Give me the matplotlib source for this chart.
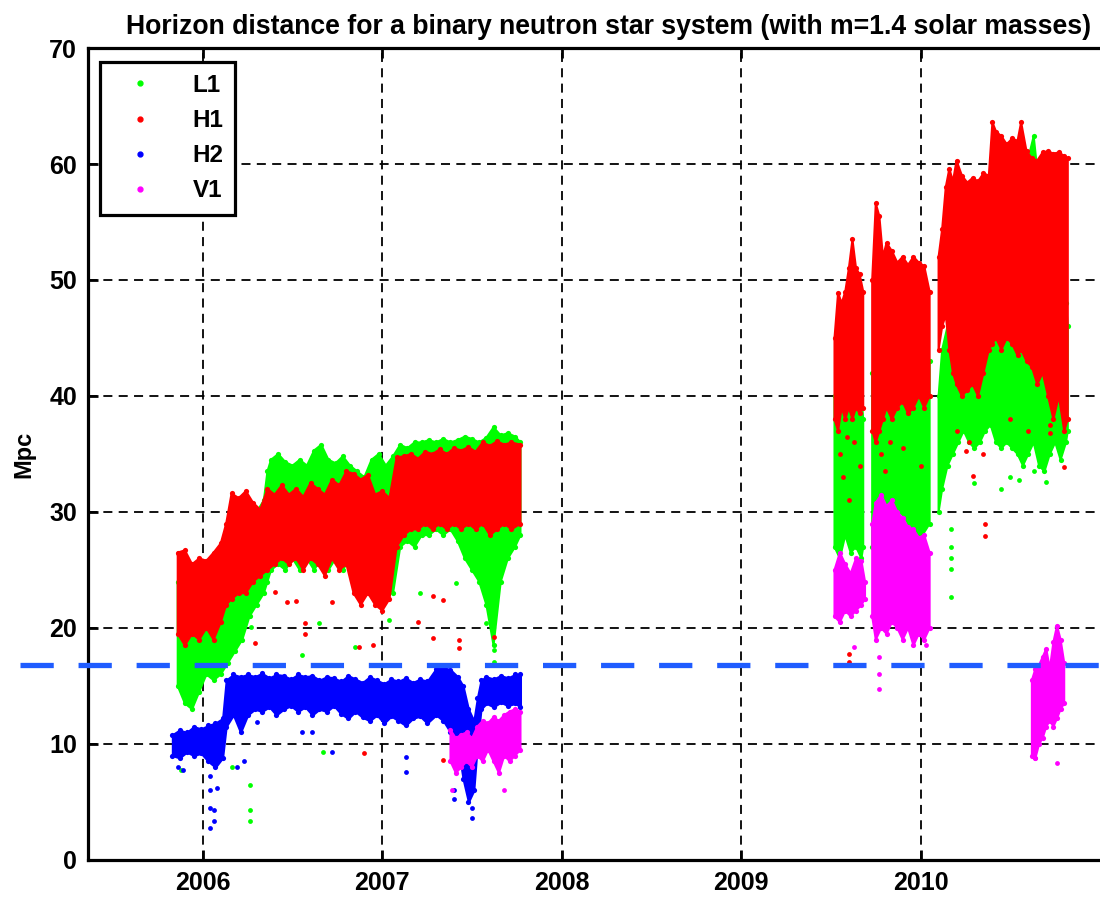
import numpy as np
import matplotlib
matplotlib.use("Agg")
import matplotlib.pyplot as plt
from matplotlib.lines import Line2D
import matplotlib.transforms as mtransforms

nan = np.nan

# ---- data (decimal year, Mpc) ----------------------------------------------
# dense band of each detector: time, lower edge, upper edge (nan = gap between runs)
L1_T = [2005.86, 2005.90, 2005.94, 2005.98, 2006.02, 2006.06, 2006.10, 2006.14, 2006.18,
        2006.22, 2006.26, 2006.30, 2006.34, 2006.36, 2006.38, 2006.42, 2006.46, 2006.50,
        2006.54, 2006.58, 2006.62, 2006.66, 2006.70, 2006.74, 2006.78, 2006.82, 2006.86,
        2006.90, 2006.94, 2006.98, 2007.02, 2007.06, 2007.10, 2007.14, 2007.18, 2007.22,
        2007.26, 2007.30, 2007.34, 2007.38, 2007.42, 2007.46, 2007.50, 2007.54, 2007.58,
        2007.62, 2007.66, 2007.70, 2007.74, 2007.77, nan,
        2009.52, 2009.55, 2009.58, 2009.61, 2009.64, 2009.67, 2009.68, nan,
        2009.73, 2009.77, 2009.81, 2009.85, 2009.89, 2009.93, 2009.97, 2010.01, 2010.05, nan,
        2010.10, 2010.12, 2010.15, 2010.18, 2010.21, 2010.24, 2010.27, 2010.30, 2010.33,
        2010.36, 2010.39, 2010.42, 2010.45, 2010.48, 2010.51, 2010.54, 2010.57, 2010.60,
        2010.63, 2010.66, 2010.69, 2010.72, 2010.75, 2010.78, 2010.81, 2010.82]
L1_LO = [15, 13.5, 13, 14.5, 16, 15.5, 16, 17, 18,
         19, 21, 22, 23, 24, 25, 25.5, 25, 26,
         25, 26, 25, 26, 25, 26, 25, 26, 24,
         23, 24, 23, 24, 23, 27, 27.5, 27, 28,
         28, 28.5, 28, 28.5, 27.5, 26, 25, 24, 22,
         18.5, 24, 26, 27, 28, nan,
         27, 26, 28, 26.5, 27, 26, 27, nan,
         27, 29, 30, 30.5, 30, 29, 28, 28, 29, nan,
         30, 32, 34, 35, 36, 37, 36, 35.5, 36,
         37, 37.5, 36, 35.5, 36, 35.5, 35, 34, 35,
         36, 34, 33.5, 35, 36, 34.5, 36, 37]
L1_HI = [24, 25, 24, 23, 22, 23, 24, 26, 27,
         28, 29, 30, 31, 33.5, 34.5, 35, 34.3, 34,
         34.5, 34, 35.3, 35.8, 34.5, 34.2, 34.8, 34, 33.5,
         33, 34.5, 35, 34, 34.8, 35.8, 35.5, 36, 36,
         36.2, 36, 36.3, 36, 36.2, 36.5, 36.3, 36, 36.4,
         37.3, 36.6, 36.8, 36.5, 36, nan,
         40, 42, 41, 42, 41, 40, 38, nan,
         42, 41.5, 42, 41, 42.5, 43, 44.5, 45, 43, nan,
         40, 44, 46, 48, 49, 50, 51, 52, 51,
         53, 55, 58, 56, 54, 55, 57, 59, 60.5,
         62.4, 58, 55, 54, 52, 50, 48, 46]

H1_T = [2005.86, 2005.90, 2005.94, 2005.98, 2006.02, 2006.06, 2006.10, 2006.13, 2006.16,
        2006.20, 2006.24, 2006.28, 2006.32, 2006.36, 2006.40, 2006.44, 2006.48, 2006.52,
        2006.56, 2006.60, 2006.64, 2006.68, 2006.72, 2006.76, 2006.80, 2006.84, 2006.88,
        2006.92, 2006.96, 2007.00, 2007.04, 2007.08, 2007.12, 2007.16, 2007.20, 2007.24,
        2007.28, 2007.32, 2007.36, 2007.40, 2007.44, 2007.48, 2007.52, 2007.56, 2007.60,
        2007.64, 2007.68, 2007.72, 2007.77, nan,
        2009.52, 2009.54, 2009.56, 2009.58, 2009.60, 2009.62, 2009.64, 2009.66, 2009.68, nan,
        2009.73, 2009.75, 2009.77, 2009.79, 2009.81, 2009.84, 2009.87, 2009.90, 2009.93,
        2009.96, 2009.99, 2010.02, 2010.05, nan,
        2010.10, 2010.12, 2010.14, 2010.16, 2010.18, 2010.20, 2010.23, 2010.26, 2010.29,
        2010.32, 2010.35, 2010.38, 2010.40, 2010.42, 2010.45, 2010.48, 2010.51, 2010.54,
        2010.56, 2010.59, 2010.62, 2010.65, 2010.68, 2010.71, 2010.74, 2010.77, 2010.80,
        2010.82]
H1_LO = [19.5, 18.5, 19.5, 19, 20, 19, 20.5, 22, 22.5,
         23, 23, 24, 24.5, 25, 25.5, 26, 25.5, 26,
         25, 26, 25.5, 24.5, 26, 25, 25.5, 23, 22,
         23, 22, 21.5, 22.5, 27, 28, 28.5, 28.5, 29,
         28.5, 29, 28.5, 29, 28.5, 29, 28.5, 29, 28,
         28.5, 29, 28.5, 29, nan,
         38, 37, 39, 38, 39, 38, 39, 38.5, 39, nan,
         37, 36, 37, 38, 39, 38, 39, 39.5, 38.5,
         39, 40, 39, 40, nan,
         44, 46, 47, 44, 42, 41, 40, 40.5, 41,
         40, 42, 44, 44.5, 45, 44, 45, 44.5, 43.5,
         44, 43, 42.5, 41, 42, 40, 38, 40, 37,
         38]
H1_HI = [26.5, 26.7, 25.5, 26, 25.8, 26.5, 27.3, 29, 31.6,
         31.2, 31.8, 30.8, 30.2, 32, 31.5, 32.3, 31.5, 32,
         31.3, 32.5, 32, 31.5, 32.8, 32.3, 33.5, 33.3, 32.8,
         33.2, 31.5, 31.8, 31.2, 34.7, 34.8, 35, 34.6, 35.2,
         35, 35.4, 35, 35.5, 35.3, 35.6, 35.2, 36, 35.7,
         36.1, 35.8, 36, 35.8, nan,
         45, 48.9, 48, 49, 51, 53.5, 51, 50.5, 49, nan,
         50, 56.6, 55.5, 52, 53.2, 52.5, 51.5, 52, 51.3,
         52, 51.5, 51.2, 49, nan,
         52, 54.4, 58, 59.6, 58.5, 60.3, 59, 58.4, 58.8,
         58.5, 59.2, 59, 63.6, 62.8, 62.4, 61.7, 62.2, 62,
         63.6, 61.1, 60.5, 60.3, 61, 61.1, 60.9, 61, 60.7,
         60.5]

H2_T = [2005.83, 2005.87, 2005.91, 2005.95, 2005.99, 2006.03, 2006.07, 2006.11, 2006.13,
        2006.17, 2006.21, 2006.25, 2006.29, 2006.33, 2006.37, 2006.41, 2006.45, 2006.49,
        2006.53, 2006.57, 2006.61, 2006.65, 2006.69, 2006.73, 2006.77, 2006.81, 2006.85,
        2006.89, 2006.93, 2006.97, 2007.01, 2007.05, 2007.09, 2007.13, 2007.17, 2007.21,
        2007.25, 2007.30, 2007.34, 2007.38, 2007.42, 2007.45, 2007.48, 2007.51, 2007.53,
        2007.55, 2007.58, 2007.62, 2007.66, 2007.70, 2007.74, 2007.77]
H2_LO = [9, 8.8, 9.3, 9, 9.2, 8.5, 8, 8.8, 11.5,
         12.5, 11, 12.5, 13, 12.8, 13.2, 12.5, 13, 13.3,
         12.8, 13.2, 12.5, 13, 12.8, 13.3, 12.6, 12.2, 12.8,
         12.3, 12, 12.5, 11.8, 12.4, 12, 11.6, 12.2, 12.4,
         11.8, 12.5, 12, 11, 10, 7, 5, 6, 10,
         13, 13.5, 13.2, 13.6, 13.3, 13.5, 13.2]
H2_HI = [10.8, 11.2, 11, 11.5, 11.3, 11.6, 11.8, 12.2, 15.5,
         16, 15.8, 16, 15.8, 16.1, 15.7, 16, 15.9, 15.6,
         16, 15.8, 15.9, 15.5, 15.8, 15.7, 15.4, 15.9, 15.6,
         15.3, 15.8, 15.5, 15.2, 15.6, 15.4, 15.7, 15.3, 15.6,
         15.4, 16.5, 16.6, 16.4, 15.8, 15, 13, 12, 14,
         15.5, 15.8, 15.6, 15.9, 15.7, 16, 16]

V1_T = [2007.38, 2007.41, 2007.44, 2007.47, 2007.50, 2007.53, 2007.56, 2007.59, 2007.62,
        2007.65, 2007.68, 2007.71, 2007.74, 2007.77, nan,
        2009.52, 2009.55, 2009.58, 2009.61, 2009.64, 2009.67, 2009.69, nan,
        2009.73, 2009.75, 2009.78, 2009.81, 2009.84, 2009.87, 2009.90, 2009.93, 2009.96,
        2009.99, 2010.02, 2010.05, nan,
        2010.62, 2010.64, 2010.66, 2010.68, 2010.70, 2010.72, 2010.74, 2010.76, 2010.78,
        2010.80]
V1_LO = [8.5, 7.5, 8, 8.5, 8, 9, 8.5, 9.5, 8.5,
         7.5, 9, 8.5, 9, 9.5, nan,
         21, 20.5, 21.5, 21, 21.5, 22, 22.5, nan,
         21, 19, 20, 19.5, 20.5, 20, 19, 20, 18.5,
         19.5, 19, 20, nan,
         9, 8.8, 10, 10.5, 11.5, 12, 11.5, 12.2, 13,
         13.5]
V1_HI = [11.2, 10.5, 10.8, 11, 10.5, 11.5, 12, 11.8, 12.3,
         12, 12.5, 12.8, 13, 12.8, nan,
         25, 26.5, 25.5, 24.7, 26, 25.8, 24, nan,
         29, 30.8, 31.5, 30.5, 31, 30, 29.5, 28.7, 28.5,
         27.8, 28, 26.5, nan,
         15.5, 16.5, 16.8, 17.5, 18.2, 16.5, 18.8, 20.2, 19,
         17]

# isolated points below / above the dense bands
L1_OUT_T = [2005.88, 2005.94, 2006.16, 2006.26, 2006.26, 2006.26, 2006.27, 2006.55, 2006.65,
            2006.67, 2006.85, 2007.04, 2007.21, 2007.41, 2007.58, 2007.62, 2007.62,
            2010.17, 2010.17, 2010.17, 2010.17, 2010.17, 2010.30, 2010.45, 2010.50,
            2010.55, 2010.63, 2010.70]
L1_OUT_V = [7.8, 13.5, 8.0, 6.5, 4.3, 3.4, 20.1, 17.7, 20.4,
            9.3, 18.4, 20.7, 23.0, 23.9, 20.4, 18.1, 17.1,
            28.5, 27.0, 26.0, 25.1, 22.7, 32.5, 32.0, 33.0,
            32.8, 33.5, 32.6]
H1_OUT_T = [2006.29, 2006.40, 2006.47, 2006.52, 2006.57, 2006.57, 2006.72, 2006.87, 2006.90,
            2006.95, 2007.20, 2007.28, 2007.28, 2007.34, 2007.34, 2007.43, 2007.43, 2007.62,
            2009.55, 2009.57, 2009.59, 2009.60, 2009.60, 2009.60, 2009.63, 2009.66, 2009.78,
            2009.80, 2009.83, 2009.90, 2010.00, 2010.20, 2010.25, 2010.27, 2010.29, 2010.35,
            2010.36, 2010.36, 2010.50, 2010.60, 2010.72, 2010.72, 2010.80]
H1_OUT_V = [18.7, 23.1, 22.2, 22.3, 20.4, 19.5, 22.2, 18.4, 9.2,
            18.5, 20.5, 19.1, 22.8, 8.6, 22.4, 19.0, 18.3, 19.2,
            35.0, 33.0, 36.5, 31.0, 17.8, 17.1, 36.0, 34.0, 35.0,
            33.5, 36.0, 35.5, 34.0, 37.0, 35.3, 36.0, 33.1, 35.0,
            29.0, 27.9, 38.0, 37.0, 36.8, 37.5, 33.9]
H2_OUT_T = [2005.86, 2005.89, 2006.04, 2006.04, 2006.04, 2006.04, 2006.06, 2006.06, 2006.08,
            2006.19, 2006.23, 2006.30, 2006.55, 2006.61, 2006.72, 2007.13, 2007.13, 2007.40,
            2007.40, 2007.50, 2007.50]
H2_OUT_V = [8.0, 7.8, 7.2, 6.0, 4.5, 2.8, 4.3, 3.4, 6.2,
            8.0, 8.5, 11.9, 11.0, 11.0, 9.3, 8.9, 7.6, 6.0,
            5.3, 4.5, 3.6]
V1_OUT_T = [2007.39, 2007.68, 2009.63, 2009.77, 2009.77, 2009.77, 2010.03, 2010.64, 2010.76]
V1_OUT_V = [6.0, 6.0, 18.4, 14.7, 16.0, 17.5, 18.5, 8.8, 8.4]

DETECTORS = ["L1", "H1", "H2", "V1"]
COLORS = ["#00ff00", "#ff0000", "#0000ff", "#ff00ff"]
YEARS = [2006, 2007, 2008, 2009, 2010]
THRESHOLD = 16.8

plt.rcParams["font.family"] = ["Liberation Sans", "DejaVu Sans"]
plt.rcParams["font.weight"] = "bold"

fig = plt.figure(figsize=(11, 8.99), dpi=100)
# the axes run a little past the right edge of the picture (right spine is cut off)
ax = fig.add_axes([0.08, 0.0434, 0.947, 0.9032])

bands = [(L1_T, L1_LO, L1_HI), (H1_T, H1_LO, H1_HI),
         (H2_T, H2_LO, H2_HI), (V1_T, V1_LO, V1_HI)]
outliers = [(L1_OUT_T, L1_OUT_V), (H1_OUT_T, H1_OUT_V),
            (H2_OUT_T, H2_OUT_V), (V1_OUT_T, V1_OUT_V)]

for i, ((t, lo, hi), (ot, ov), col) in enumerate(zip(bands, outliers, COLORS)):
    t, lo, hi = np.array(t), np.array(lo), np.array(hi)
    z = 2 + i
    ax.fill_between(t, lo, hi, color=col, lw=1.5, edgecolor=col, zorder=z)
    ax.scatter(t, hi, s=14, color=col, lw=0, zorder=z)
    ax.scatter(t, lo, s=14, color=col, lw=0, zorder=z)
    ax.scatter(ot, ov, s=12, color=col, lw=0, zorder=z)

# threshold line, runs past the left spine
trans = mtransforms.blended_transform_factory(ax.transAxes, ax.transData)
ax.plot([-0.065, 1.0], [THRESHOLD, THRESHOLD], transform=trans, clip_on=False,
        color="#1f5cff", lw=3.8, dashes=(6.3, 4.7), zorder=10)

ax.set_xlim(2005.36, 2011.165)
ax.set_ylim(0, 70)
ax.set_xticks(YEARS)
ax.set_xticklabels([str(y) for y in YEARS])
ax.set_yticks(range(0, 71, 10))
ax.grid(True, color="black", linestyle=(0, (5, 3.5)), lw=1.3, zorder=1)
ax.set_axisbelow(True)
for s in ax.spines.values():
    s.set_linewidth(2.3)
ax.tick_params(direction="in", length=7, width=2, labelsize=18, pad=8,
               top=True, right=True)
ax.set_ylabel("Mpc", fontsize=17, fontweight="bold", labelpad=10)
ax.set_title("Horizon distance for a binary neutron star system (with m=1.4 solar masses)",
             fontsize=19.2, fontweight="bold", pad=10)

handles = [Line2D([], [], marker="o", ms=3.5, ls="none", color=c) for c in COLORS]
leg = ax.legend(handles, DETECTORS, loc="upper left", bbox_to_anchor=(0.0115, 0.983),
                borderaxespad=0, fancybox=False, framealpha=1, edgecolor="black",
                prop={"size": 17.5, "weight": "bold"}, handlelength=2.3,
                handletextpad=1.0, labelspacing=0.5, borderpad=0.5)
leg.get_frame().set_linewidth(2.3)
leg.set_zorder(20)

fig.savefig("out.png", dpi=100)
